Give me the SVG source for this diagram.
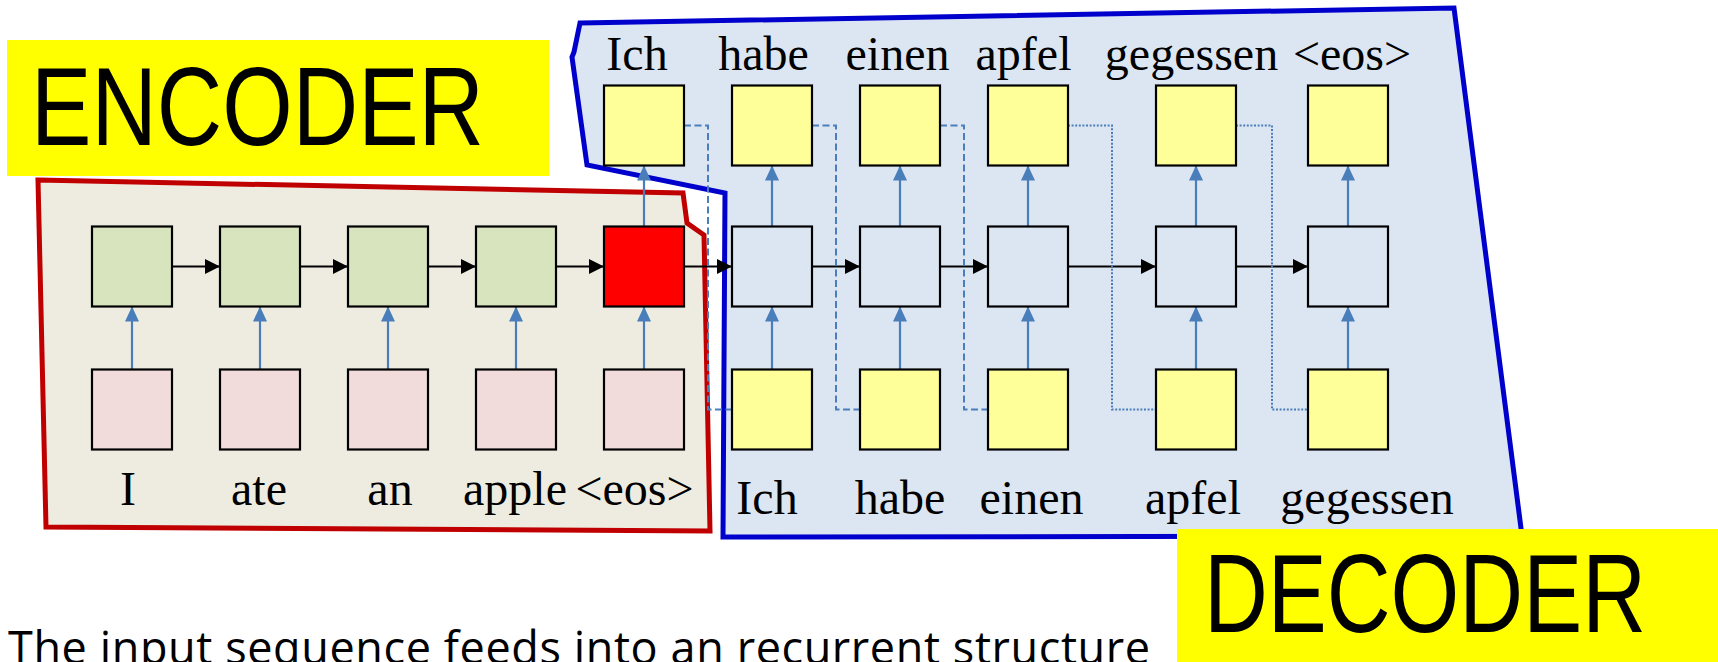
<svg xmlns="http://www.w3.org/2000/svg" width="1718" height="662" viewBox="0 0 1718 662">
<style>
.box{stroke:#000;stroke-width:2.2}
.enc{fill:#D7E4BD}
.inp{fill:#F2DCDB}
.red{fill:#FF0000}
.dec{fill:#DCE6F2}
.yel{fill:#FFFF99}
.word{font-family:"Liberation Serif","Times New Roman",serif;font-size:48px;fill:#000;text-anchor:middle}
.big{font-family:"Liberation Sans",Arial,sans-serif;font-size:112px;fill:#000}
.h{fill:none;stroke:#000;stroke-width:2;marker-end:url(#ahk)}
.v{fill:none;stroke:#4A7EBB;stroke-width:2.2;marker-end:url(#ahb)}
.dash{fill:none;stroke:#4A7EBB;stroke-width:2;stroke-dasharray:7 3.5}
.dot{fill:none;stroke:#4A7EBB;stroke-width:2;stroke-dasharray:2 1.6}
</style>
<defs>
<marker id="ahk" markerUnits="userSpaceOnUse" markerWidth="16" markerHeight="16" refX="15" refY="7.5" orient="auto"><path d="M0,0 L15,7.5 L0,15 Z" fill="#000"/></marker>
<marker id="ahb" markerUnits="userSpaceOnUse" markerWidth="16" markerHeight="16" refX="15" refY="7" orient="auto"><path d="M0,0 L15,7 L0,14 Z" fill="#4A7EBB"/></marker>
</defs>
<rect width="1718" height="662" fill="#FFFFFF"/>

<g id="encoder-region">
<polygon points="38,180 683,193 687,223 704,235 710,531 46,527" fill="#EEECE1" stroke="#C00000" stroke-width="5" stroke-linejoin="miter"/>
</g>
<g id="decoder-region">
<polygon points="580,23 1454,8 1522,536 723,537 725,193 587,165 572,57 574,52" fill="#DCE6F2" stroke="#0000CC" stroke-width="5"/>
</g>
<g id="encoder-label">
<rect x="7" y="40" width="542" height="136" fill="#FFFF00"/>
<text class="big" x="31" y="145" textLength="453" lengthAdjust="spacingAndGlyphs">ENCODER</text>
</g>

<g id="connectors">
<path class="v" d="M132,369.5 V306.5"/>
<path class="v" d="M260,369.5 V306.5"/>
<path class="v" d="M388,369.5 V306.5"/>
<path class="v" d="M516,369.5 V306.5"/>
<path class="v" d="M644,369.5 V306.5"/>
<path class="v" d="M644,226.5 V165.5"/>
<path class="v" d="M772,369.5 V306.5"/>
<path class="v" d="M900,369.5 V306.5"/>
<path class="v" d="M1028,369.5 V306.5"/>
<path class="v" d="M1196,369.5 V306.5"/>
<path class="v" d="M1348,369.5 V306.5"/>
<path class="v" d="M772,226.5 V165.5"/>
<path class="v" d="M900,226.5 V165.5"/>
<path class="v" d="M1028,226.5 V165.5"/>
<path class="v" d="M1196,226.5 V165.5"/>
<path class="v" d="M1348,226.5 V165.5"/>
<path class="h" d="M172,266.5 H220"/>
<path class="h" d="M300,266.5 H348"/>
<path class="h" d="M428,266.5 H476"/>
<path class="h" d="M556,266.5 H604"/>
<path class="h" d="M684,266.5 H732"/>
<path class="h" d="M812,266.5 H860"/>
<path class="h" d="M940,266.5 H988"/>
<path class="h" d="M1068,266.5 H1156"/>
<path class="h" d="M1236,266.5 H1308"/>
<path class="dash" d="M684,125.5 H708 V409.5 H732"/>
<path class="dash" d="M812,125.5 H836 V409.5 H860"/>
<path class="dash" d="M940,125.5 H964 V409.5 H988"/>
<path class="dot" d="M1068,125.5 H1112 V409.5 H1156"/>
<path class="dot" d="M1236,125.5 H1272 V409.5 H1308"/>
</g>

<g id="enc-in-1"><rect class="box inp" x="92" y="369.5" width="80" height="80"/><text class="word" x="128" y="505">I</text></g>
<g id="enc-in-2"><rect class="box inp" x="220" y="369.5" width="80" height="80"/><text class="word" x="259" y="505">ate</text></g>
<g id="enc-in-3"><rect class="box inp" x="348" y="369.5" width="80" height="80"/><text class="word" x="390" y="505">an</text></g>
<g id="enc-in-4"><rect class="box inp" x="476" y="369.5" width="80" height="80"/><text class="word" x="515" y="505">apple</text></g>
<g id="enc-in-5"><rect class="box inp" x="604" y="369.5" width="80" height="80"/><text class="word" x="634.5" y="505">&lt;eos&gt;</text></g>

<g id="enc-h-1"><rect class="box enc" x="92" y="226.5" width="80" height="80"/></g>
<g id="enc-h-2"><rect class="box enc" x="220" y="226.5" width="80" height="80"/></g>
<g id="enc-h-3"><rect class="box enc" x="348" y="226.5" width="80" height="80"/></g>
<g id="enc-h-4"><rect class="box enc" x="476" y="226.5" width="80" height="80"/></g>
<g id="enc-h-5"><rect class="box red" x="604" y="226.5" width="80" height="80"/></g>

<g id="dec-h-1"><rect class="box dec" x="732" y="226.5" width="80" height="80"/></g>
<g id="dec-h-2"><rect class="box dec" x="860" y="226.5" width="80" height="80"/></g>
<g id="dec-h-3"><rect class="box dec" x="988" y="226.5" width="80" height="80"/></g>
<g id="dec-h-4"><rect class="box dec" x="1156" y="226.5" width="80" height="80"/></g>
<g id="dec-h-5"><rect class="box dec" x="1308" y="226.5" width="80" height="80"/></g>

<g id="dec-out-1"><rect class="box yel" x="604" y="85.5" width="80" height="80"/><text class="word" x="637" y="70">Ich</text></g>
<g id="dec-out-2"><rect class="box yel" x="732" y="85.5" width="80" height="80"/><text class="word" x="763.5" y="70">habe</text></g>
<g id="dec-out-3"><rect class="box yel" x="860" y="85.5" width="80" height="80"/><text class="word" x="897.5" y="70">einen</text></g>
<g id="dec-out-4"><rect class="box yel" x="988" y="85.5" width="80" height="80"/><text class="word" x="1023.5" y="70">apfel</text></g>
<g id="dec-out-5"><rect class="box yel" x="1156" y="85.5" width="80" height="80"/><text class="word" x="1191.5" y="70">gegessen</text></g>
<g id="dec-out-6"><rect class="box yel" x="1308" y="85.5" width="80" height="80"/><text class="word" x="1352" y="70">&lt;eos&gt;</text></g>

<g id="dec-in-1"><rect class="box yel" x="732" y="369.5" width="80" height="80"/><text class="word" x="767" y="514">Ich</text></g>
<g id="dec-in-2"><rect class="box yel" x="860" y="369.5" width="80" height="80"/><text class="word" x="900" y="514">habe</text></g>
<g id="dec-in-3"><rect class="box yel" x="988" y="369.5" width="80" height="80"/><text class="word" x="1031.5" y="514">einen</text></g>
<g id="dec-in-4"><rect class="box yel" x="1156" y="369.5" width="80" height="80"/><text class="word" x="1193" y="514">apfel</text></g>
<g id="dec-in-5"><rect class="box yel" x="1308" y="369.5" width="80" height="80"/><text class="word" x="1367" y="514">gegessen</text></g>

<g id="decoder-label">
<rect x="1177" y="529" width="541" height="133" fill="#FFFF00"/>
<text class="big" x="1204" y="632" font-size="106" textLength="442" lengthAdjust="spacingAndGlyphs">DECODER</text>
</g>

<text x="8" y="664" font-family="'Open Sans','Noto Sans',sans-serif" font-size="45" fill="#000" textLength="1142">The input sequence feeds into an recurrent structure</text>
</svg>
